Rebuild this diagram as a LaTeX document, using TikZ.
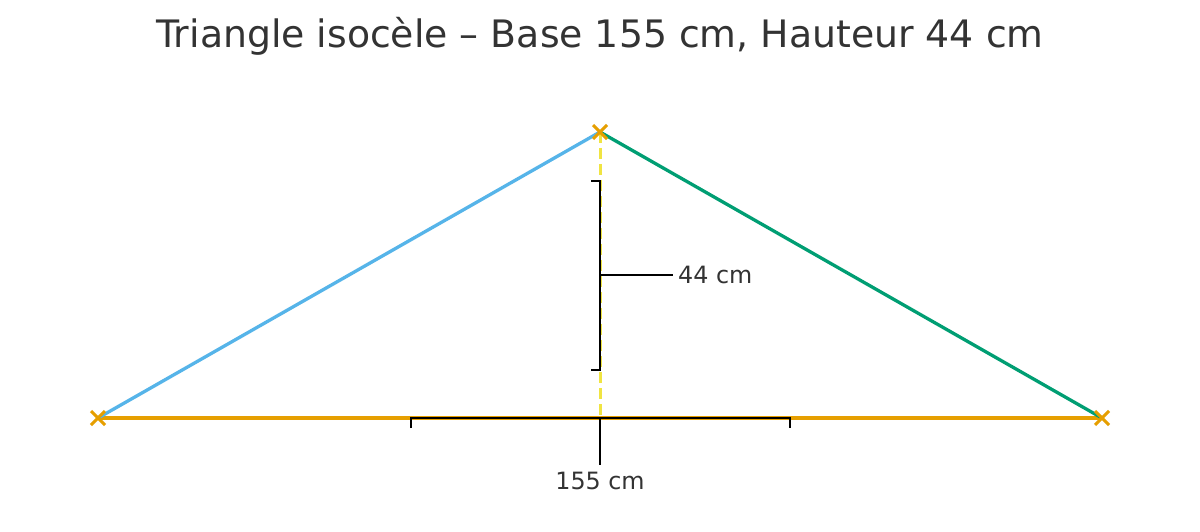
\documentclass[tikz,border=0pt]{standalone}
\usepackage{fontspec}
\setmainfont{DejaVu Sans}
\definecolor{sideblue}{HTML}{56B4E9}
\definecolor{sidegreen}{HTML}{009E73}
\definecolor{baseorange}{HTML}{E69F00}
\definecolor{hyellow}{HTML}{F0E442}
\definecolor{txtgray}{HTML}{333333}
\begin{document}
\begin{tikzpicture}[x=1pt,y=-1pt,
  side/.style={line width=3.3pt},
  bracket/.style={line width=2.3pt,black},
  vmark/.style={baseorange,line width=2.9pt},
  lbl/.style={text=txtgray,font=\fontsize{23.8}{27}\selectfont,inner sep=0pt}]
\useasboundingbox (0,0) rectangle (1200,532);
\fill[white] (0,0) rectangle (1200,532);
\node[text=txtgray,font=\fontsize{37.8}{42}\selectfont] (title) at (600,36) {Triangle isocèle – Base 155 cm, Hauteur 44 cm};
\coordinate (A) at (98,418);
\coordinate (B) at (1102,418);
\coordinate (C) at (600,132);
\coordinate (H) at (600,418);
% base and sides
\draw[side,baseorange] (A) -- (B);
\draw[side,sideblue] (A) -- (C);
\draw[side,sidegreen] (C) -- (B);
% height
\draw[hyellow,line width=3pt,dash pattern=on 11pt off 5pt] (C) -- (H);
% height bracket
\coordinate (ht) at (600,181);
\coordinate (hb) at (600,370);
\coordinate (hm) at (600,275);
\coordinate (he) at (673,275);
\draw[bracket] ([xshift=-9pt]ht) -- (ht) -- (hb) -- ([xshift=-9pt]hb);
\draw[bracket] (hm) -- (he);
\node[lbl,anchor=west] (hl) at ([xshift=5pt]he) {44 cm};
% base bracket
\coordinate (bl) at (411,418);
\coordinate (br) at (790,418);
\coordinate (bm) at (600,465);
\draw[bracket] ([yshift=-10pt]bl) -- (bl) -- (br) -- ([yshift=-10pt]br);
\draw[bracket] (H) -- (bm);
\node[lbl,anchor=center] (bll) at (600,481) {155 cm};
% vertex markers
\foreach \p in {A,B,C}{
  \draw[vmark] ([shift={(-7,-7)}]\p) -- ([shift={(7,7)}]\p);
  \draw[vmark] ([shift={(-7,7)}]\p) -- ([shift={(7,-7)}]\p);
}
\end{tikzpicture}
\end{document}
